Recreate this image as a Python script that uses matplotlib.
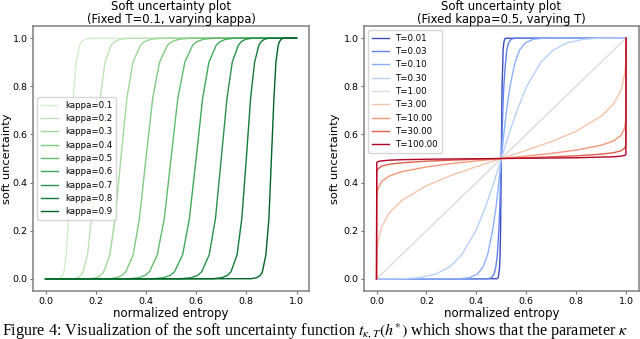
import matplotlib
matplotlib.use("Agg")
import matplotlib.pyplot as plt
import numpy as np

# ---- left panel: fixed T=0.1, one curve per kappa ----
kappas = [0.1, 0.2, 0.3, 0.4, 0.5, 0.6, 0.7, 0.8, 0.9]
# soft-uncertainty levels at which the x position of each curve was read
rise_levels = [0.0, 0.001, 0.005, 0.015, 0.03, 0.1, 0.25, 0.5,
               0.75, 0.9, 0.97, 0.985, 0.995, 0.999, 1.0]
kappa_x = [
    [0.0, 0.053, 0.061, 0.068, 0.073, 0.082, 0.091, 0.100, 0.110, 0.122, 0.136, 0.144, 0.159, 0.181, 1.0],
    [0.0, 0.111, 0.128, 0.141, 0.150, 0.167, 0.183, 0.200, 0.218, 0.237, 0.261, 0.275, 0.298, 0.333, 1.0],
    [0.0, 0.177, 0.202, 0.220, 0.232, 0.256, 0.277, 0.300, 0.324, 0.348, 0.378, 0.394, 0.421, 0.461, 1.0],
    [0.0, 0.251, 0.282, 0.305, 0.320, 0.349, 0.374, 0.400, 0.427, 0.454, 0.486, 0.503, 0.531, 0.571, 1.0],
    [0.0, 0.334, 0.371, 0.397, 0.414, 0.445, 0.473, 0.500, 0.527, 0.555, 0.586, 0.603, 0.629, 0.666, 1.0],
    [0.0, 0.429, 0.469, 0.497, 0.514, 0.546, 0.573, 0.600, 0.626, 0.651, 0.680, 0.695, 0.718, 0.750, 1.0],
    [0.0, 0.539, 0.579, 0.606, 0.622, 0.652, 0.677, 0.700, 0.723, 0.744, 0.768, 0.780, 0.798, 0.823, 1.0],
    [0.0, 0.667, 0.702, 0.725, 0.739, 0.763, 0.782, 0.800, 0.817, 0.833, 0.850, 0.859, 0.872, 0.889, 1.0],
    [0.0, 0.819, 0.841, 0.856, 0.864, 0.878, 0.890, 0.900, 0.910, 0.918, 0.927, 0.932, 0.939, 0.947, 1.0],
]

# ---- right panel: fixed kappa=0.5, one curve per T ----
temps = [0.01, 0.03, 0.1, 0.3, 1.0, 3.0, 10.0, 30.0, 100.0]
grid = [0.0, 0.001, 0.005, 0.02, 0.05, 0.1, 0.2, 0.3, 0.4, 0.5,
        0.6, 0.7, 0.8, 0.9, 0.95, 0.98, 0.995, 0.999, 1.0]
# T < 1: x position read at each level of `grid` (curve is steep)
cold_x = [
    [0.0, 0.483, 0.487, 0.490, 0.493, 0.495, 0.497, 0.498, 0.499, 0.5, 0.501, 0.502, 0.503, 0.506, 0.507, 0.510, 0.513, 0.517, 1.0],
    [0.0, 0.448, 0.460, 0.471, 0.478, 0.484, 0.490, 0.494, 0.497, 0.5, 0.503, 0.506, 0.510, 0.517, 0.522, 0.529, 0.540, 0.552, 1.0],
    [0.0, 0.334, 0.371, 0.404, 0.427, 0.445, 0.465, 0.479, 0.490, 0.5, 0.510, 0.521, 0.535, 0.555, 0.573, 0.596, 0.629, 0.666, 1.0],
    [0.0, 0.112, 0.170, 0.237, 0.293, 0.341, 0.398, 0.437, 0.470, 0.5, 0.530, 0.563, 0.602, 0.659, 0.708, 0.763, 0.830, 0.888, 1.0],
]
# T >= 1: y value read at each x of `grid` (curve is flat)
warm_y = [
    [0.0, 0.001, 0.005, 0.020, 0.050, 0.100, 0.200, 0.300, 0.400, 0.5, 0.600, 0.700, 0.800, 0.900, 0.950, 0.980, 0.995, 0.999, 1.0],
    [0.0, 0.091, 0.146, 0.215, 0.273, 0.325, 0.387, 0.430, 0.466, 0.5, 0.534, 0.570, 0.613, 0.675, 0.727, 0.785, 0.854, 0.909, 1.0],
    [0.0, 0.334, 0.371, 0.404, 0.427, 0.445, 0.465, 0.479, 0.490, 0.5, 0.510, 0.521, 0.535, 0.555, 0.573, 0.596, 0.629, 0.666, 1.0],
    [0.0, 0.443, 0.456, 0.468, 0.476, 0.482, 0.489, 0.493, 0.497, 0.5, 0.503, 0.507, 0.511, 0.518, 0.524, 0.532, 0.544, 0.557, 1.0],
    [0.0, 0.483, 0.487, 0.490, 0.493, 0.495, 0.497, 0.498, 0.499, 0.5, 0.501, 0.502, 0.503, 0.506, 0.507, 0.510, 0.513, 0.517, 1.0],
]

caption = ("Figure 4: Visualization of the soft uncertainty function "
           r"$t_{\kappa,T}(h^{*})$ which shows that the parameter $\kappa$")

plt.rcParams["mathtext.fontset"] = "stix"

fig = plt.figure(figsize=(6.4, 3.39), dpi=100)
ax1 = fig.add_axes([0.0516, 0.1416, 0.4313, 0.7817])
ax2 = fig.add_axes([0.5688, 0.1416, 0.4290, 0.7817])

greens = plt.cm.Greens(np.linspace(0.2, 0.9, len(kappas)))
for k, xs, c in zip(kappas, kappa_x, greens):
    ax1.plot(xs, rise_levels, color=c, lw=1.0, label=f"kappa={k}")

cw = plt.cm.coolwarm(np.linspace(0, 1, len(temps)))
curves = [(xs, grid) for xs in cold_x] + [(grid, ys) for ys in warm_y]
for t, (xs, ys), c in zip(temps, curves, cw):
    ax2.plot(xs, ys, color=c, lw=1.0, label=f"T={t:.2f}")

titles = ["Soft uncertainty plot\n(Fixed T=0.1, varying kappa)",
          "Soft uncertainty plot\n(Fixed kappa=0.5, varying T)"]
for ax, title in zip([ax1, ax2], titles):
    ax.set_title(title, fontsize=8.4, pad=1.5, linespacing=1.0)
    ax.set_xlabel("normalized entropy", fontsize=8.5, labelpad=1.0)
    ax.set_ylabel("soft uncertainty", fontsize=8.2)
    ax.set_xticks([0.0, 0.2, 0.4, 0.6, 0.8, 1.0])
    ax.set_yticks([0.0, 0.2, 0.4, 0.6, 0.8, 1.0])
    ax.tick_params(labelsize=6.8, length=2.5, width=0.8, color="0.45", pad=1.5)
    for s in ax.spines.values():
        s.set_color("0.5")
        s.set_linewidth(1.1)

# ylabel placement as in the reference
ax1.yaxis.set_label_coords(-0.076, 0.5)
ax2.yaxis.set_label_coords(-0.088, 0.5)

ax1.legend(loc="center left", fontsize=6.2, handlelength=2.0)
ax2.legend(loc="upper left", fontsize=6.2, handlelength=2.0)

fig.text(0.003, 0.009, caption, fontsize=11.6, family="Liberation Serif",
         va="baseline", ha="left")

fig.savefig("out.png", dpi=100)
